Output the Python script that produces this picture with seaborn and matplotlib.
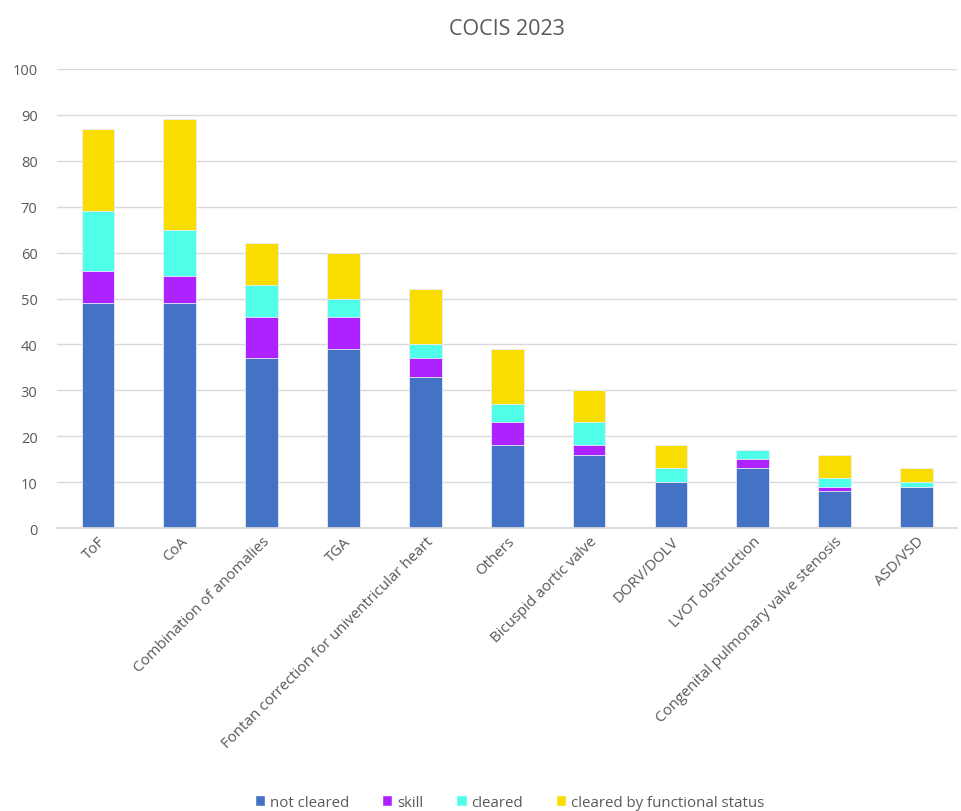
import matplotlib
matplotlib.use("Agg")
import matplotlib.pyplot as plt
import seaborn as sns
import pandas as pd
import numpy as np
from matplotlib.patches import Patch

categories = ["ToF", "CoA", "Combination of anomalies", "TGA",
              "Fontan correction for univentricular heart", "Others",
              "Bicuspid aortic valve", "DORV/DOLV", "LVOT obstruction",
              "Congenital pulmonary valve stenosis", "ASD/VSD"]
not_cleared = [49, 49, 37, 39, 33, 18, 16, 10, 13, 8, 9]
skill = [7, 6, 9, 7, 4, 5, 2, 0, 2, 1, 0]
cleared = [13, 10, 7, 4, 3, 4, 5, 3, 2, 2, 1]
cleared_functional = [18, 24, 9, 10, 12, 12, 7, 5, 0, 5, 3]

series_names = ["not cleared", "skill", "cleared", "cleared by functional status"]
colors = ["#4472C4", "#AE22FF", "#4FFFEA", "#FADD00"]

sns.set_theme(style="white")
plt.rcParams['font.family'] = ['Open Sans', 'DejaVu Sans']
txt = "#595959"

fig = plt.figure(figsize=(9.61, 8.12), dpi=100)
ax = fig.add_axes([0.0593, 0.3485, 0.937, 0.5653])

layers = [not_cleared, skill, cleared, cleared_functional]
cum = np.cumsum(np.array(layers), axis=0)
for i in range(3, -1, -1):
    df = pd.DataFrame({"cat": categories, "val": cum[i]})
    sns.barplot(data=df, x="cat", y="val", order=categories, color=colors[i],
                width=0.4, ax=ax, saturation=1, edgecolor="#E8EEF8", linewidth=0.6)

ax.set_ylim(0, 100)
ax.set_yticks(range(0, 101, 10))
ax.yaxis.grid(True, color="#D9D9D9", linewidth=1)
ax.set_axisbelow(True)
for s in ["top", "right", "left"]:
    ax.spines[s].set_visible(False)
ax.spines["bottom"].set_color("#D9D9D9")
ax.set_xlabel("")
ax.set_ylabel("")
ax.tick_params(axis="y", length=0, labelsize=10.5, labelcolor=txt, pad=14)
ax.tick_params(axis="x", length=0, labelsize=10.8, labelcolor=txt, pad=4)
ax.set_xticks(range(len(categories)))
ax.set_xticklabels(categories, rotation=45, ha="right", rotation_mode="anchor")
ax.set_xlim(-0.5, len(categories) - 0.5)

fig.text(0.527, 0.964, "COCIS 2023", ha="center", va="center", fontsize=15.5, color=txt)

handles = [Patch(facecolor=c, label=n) for c, n in zip(colors, series_names)]
fig.legend(handles=handles, loc="center", bbox_to_anchor=(0.53, 0.011), ncol=4,
           frameon=False, fontsize=10.8, labelcolor=txt, handlelength=0.7,
           handleheight=0.7, handletextpad=0.3, columnspacing=2.2)

fig.savefig("out.png", dpi=100)
